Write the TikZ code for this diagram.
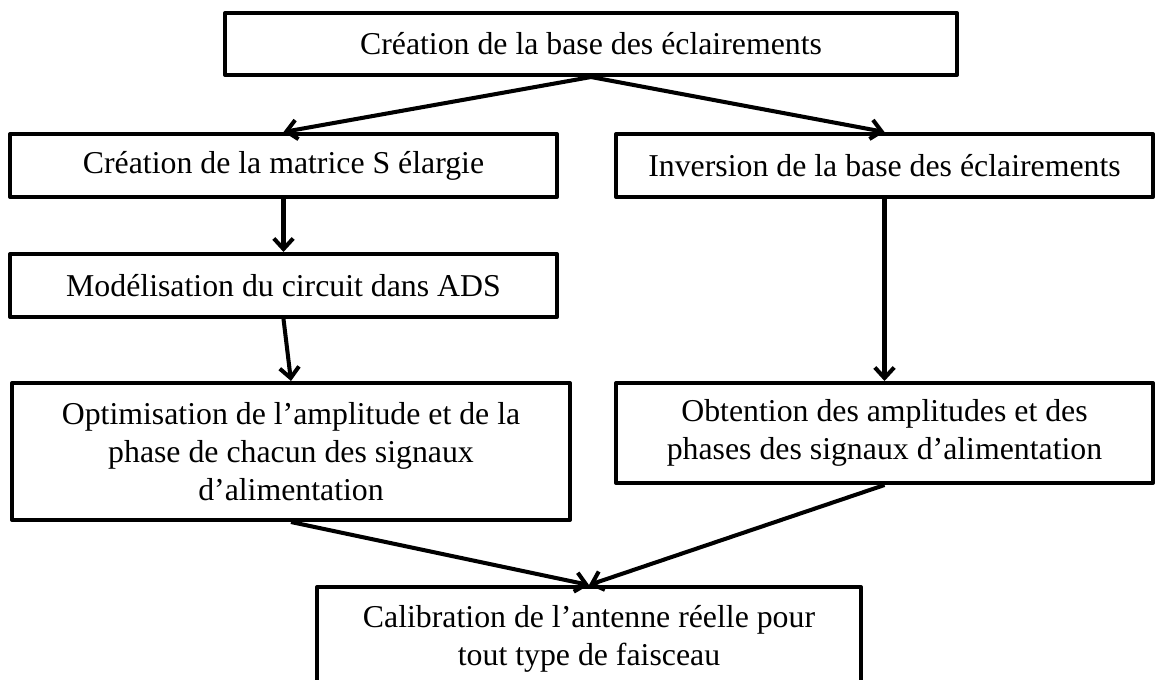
\documentclass[tikz,border=0pt]{standalone}
\usepackage{fontspec}
\setmainfont{Liberation Serif}
\usetikzlibrary{arrows.meta}

\begin{document}
\begin{tikzpicture}[x=0.02cm,y=-0.02cm,line width=2.3pt,line join=round,
  >={Straight Barb[length=6pt,width=11pt]}]
\useasboundingbox (0,0) rectangle (1155,679);
  \begin{scope}[every node/.style={draw, fill=white, align=center, inner sep=0pt,
    font=\fontsize{18.1}{21.5}\selectfont}]
  \node[minimum width=14.64cm, minimum height=1.24cm] (base) at (591,44) {Création de la base des éclairements};
  \node[minimum width=10.94cm, minimum height=1.26cm] (matS) at (283.5,165.5) {Création de la matrice S élargie};
  \node[minimum width=10.74cm, minimum height=1.26cm] (inv) at (884.5,165.5) {Inversion de la base des éclairements};
  \node[minimum width=10.94cm, minimum height=1.26cm] (ads) at (283.5,285.5) {Modélisation du circuit dans ADS};
  \node[minimum width=11.16cm, minimum height=2.74cm] (optim) at (291,451.5) {Optimisation de l’amplitude et de la\\ phase de chacun des signaux\\ d’alimentation};
  \node[minimum width=10.74cm, minimum height=2.0cm] (obt) at (884.5,433) {Obtention des amplitudes et des\\ phases des signaux d’alimentation};
  \node[minimum width=10.88cm, minimum height=2.06cm] (calib) at (589,638.5) {Calibration de l’antenne réelle pour\\ tout type de faisceau};
 \end{scope}
  \path [->] (base.south) edge (matS.north);
  \path [->] (base.south) edge (inv.north);
  \path [->] (matS.south) edge (ads.north);
  \path [->] (ads.south) edge (optim.north);
  \path [->] (inv.south) edge (obt.north);
  \path [->] (optim.south) edge (calib.north);
  \path [->] (obt.south) edge (calib.north);
\end{tikzpicture}
\end{document}
